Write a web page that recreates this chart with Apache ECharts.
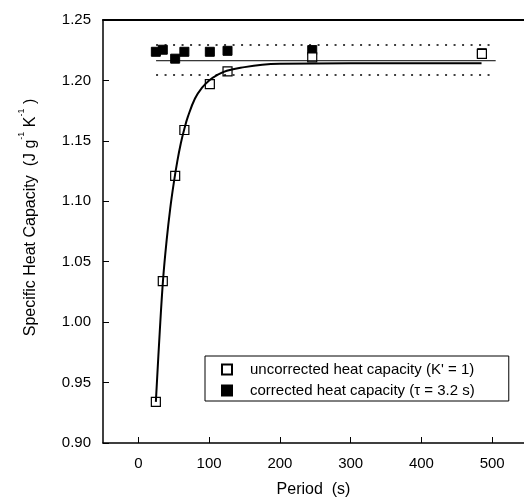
<!DOCTYPE html>
<html>
<head>
<meta charset="utf-8">
<script src="https://cdn.jsdelivr.net/npm/echarts@6/dist/echarts.min.js"></script>
<style>
  html, body { margin: 0; padding: 0; background: #fff; }
  #chart { width: 524px; height: 500px; }
</style>
</head>
<body>
<div id="chart"></div>
<script>
// period (s) of the measured points
var periods = [24.7, 34.5, 52, 65, 101, 126, 245.7, 485.5];
// uncorrected heat capacity (K' = 1)
var uncorrected = [0.934, 1.034, 1.121, 1.159, 1.197, 1.2075, 1.219, 1.222];
// corrected heat capacity (tau = 3.2 s)
var corrected = [1.2237, 1.2254, 1.2180, 1.2237, 1.2237, 1.2245, 1.2251, 1.2225];

// fitted curve
var fitX = [24.7, 30, 35, 40, 45, 50, 55, 60, 65, 70, 80, 90, 100, 110, 125, 150, 175, 200, 300, 485];
var fitY = [0.934, 0.990, 1.036, 1.068, 1.094, 1.115, 1.133, 1.148, 1.160, 1.170, 1.185, 1.194, 1.200, 1.204, 1.208, 1.211, 1.213, 1.2138, 1.2143, 1.2143];

// mean and band of the corrected values
var bandX = [25, 505];
var meanY = 1.2163;
var upperY = 1.2293;
var lowerY = 1.2044;

var xTicks = [0, 100, 200, 300, 400, 500];
var yTicks = [0.90, 0.95, 1.00, 1.05, 1.10, 1.15, 1.20, 1.25];

function pairs(xs, ys) {
  return xs.map(function (x, i) { return [x, ys[i]]; });
}
function hline(y) {
  return bandX.map(function (x) { return [x, y]; });
}

var chart = echarts.init(document.getElementById('chart'));
var font = 'Liberation Sans, Arial, sans-serif';
var square = 'path://M0,0L10,0L10,10L0,10Z';

chart.setOption({
  animation: false,
  textStyle: { fontFamily: font, color: '#000' },
  grid: { left: 103, top: 20, right: 0, bottom: 57, outerBoundsMode: 'none' },
  legend: {
    orient: 'vertical',
    left: 205,
    top: 356,
    padding: [6, 34, 3, 16],
    itemGap: 6,
    itemWidth: 36,
    itemHeight: 10,
    borderColor: '#000',
    borderWidth: 1,
    textStyle: { fontFamily: font, fontSize: 15, color: '#000' },
    data: [
      { name: "uncorrected heat capacity (K' = 1)", icon: square },
      { name: 'corrected heat capacity (\u03c4 = 3.2 s)', icon: square }
    ]
  },
  xAxis: [{
    type: 'value',
    min: -50,
    max: 545,
    name: 'Period  (s)',
    nameLocation: 'middle',
    nameGap: 39,
    nameTextStyle: { fontSize: 16, color: '#000', fontFamily: font },
    axisLine: { onZero: false, lineStyle: { color: '#000', width: 1.5 } },
    axisTick: { inside: true, length: 6, customValues: xTicks, lineStyle: { color: '#000', width: 1 } },
    axisLabel: { fontSize: 15, color: '#000', margin: 13, customValues: xTicks },
    splitLine: { show: false }
  }, {
    type: 'value',
    position: 'top',
    min: -50,
    max: 545,
    axisLine: { show: true, onZero: false, lineStyle: { color: '#000', width: 2 } },
    axisTick: { show: false },
    axisLabel: { show: false },
    splitLine: { show: false }
  }],
  yAxis: {
    type: 'value',
    min: yTicks[0],
    max: yTicks[yTicks.length - 1],
    interval: 0.05,
    name: '{a|Specific Heat Capacity  (J g}{s|-1}{a| K}{s|-1}{a| )}',
    nameLocation: 'middle',
    nameGap: 64,
    nameTextStyle: {
      padding: [0, 0, 0, 28],
      rich: {
        a: { fontSize: 16, fontFamily: font, color: '#000', lineHeight: 22, verticalAlign: 'bottom' },
        s: { fontSize: 9, fontFamily: font, color: '#000', lineHeight: 22, verticalAlign: 'top' }
      }
    },
    axisLine: { show: true, onZero: false, lineStyle: { color: '#000', width: 1.5 } },
    axisTick: { inside: true, length: 6, lineStyle: { color: '#000', width: 1 } },
    axisLabel: {
      fontSize: 15, color: '#000', margin: 12,
      formatter: function (v) { return v.toFixed(2); }
    },
    splitLine: { show: false }
  },
  series: [
    {
      type: 'line',
      data: hline(upperY),
      symbol: 'none',
      silent: true,
      lineStyle: { color: '#000', width: 1.5, type: [2, 6.5] }
    },
    {
      type: 'line',
      data: hline(lowerY),
      symbol: 'none',
      silent: true,
      lineStyle: { color: '#000', width: 1.5, type: [2, 6.5] }
    },
    {
      type: 'line',
      data: hline(meanY),
      symbol: 'none',
      silent: true,
      lineStyle: { color: '#000', width: 1 }
    },
    {
      type: 'line',
      data: pairs(fitX, fitY),
      symbol: 'none',
      smooth: 0.4,
      silent: true,
      lineStyle: { color: '#000', width: 2 }
    },
    {
      name: 'corrected heat capacity (\u03c4 = 3.2 s)',
      type: 'scatter',
      data: pairs(periods, corrected),
      symbol: 'rect',
      symbolSize: 9,
      itemStyle: { color: '#000', borderColor: '#000', borderWidth: 1, opacity: 1 }
    },
    {
      name: "uncorrected heat capacity (K' = 1)",
      type: 'scatter',
      data: pairs(periods, uncorrected),
      symbol: 'rect',
      symbolSize: 9,
      itemStyle: { color: '#fff', borderColor: '#000', borderWidth: 1.2, opacity: 1 }
    }
  ]
});
</script>
</body>
</html>
